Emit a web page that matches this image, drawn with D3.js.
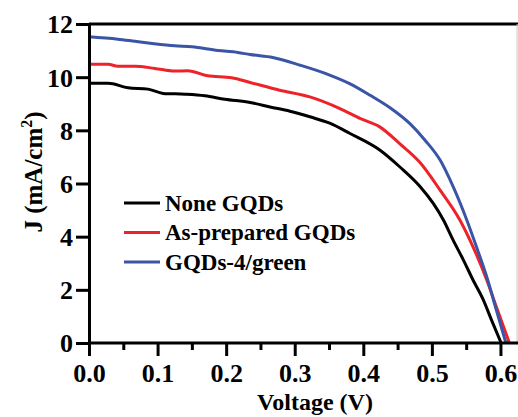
<!DOCTYPE html>
<html>
<head>
<meta charset="utf-8">
<script src="https://cdn.jsdelivr.net/npm/d3@7"></script>
<style>
  svg text, svg tspan { font-family: 'Liberation Serif', 'Times New Roman', Times, serif !important; font-weight: 700 !important; }
</style>
</head>
<body style="margin:0">
<div id="chart"></div>
<script>
// J-V curves (V in volts, J in mA/cm^2)
const seriesNames = ['None GQDs', 'As-prepared GQDs', 'GQDs-4/green'];
const seriesColors = ['#000000', '#ee2229', '#3a55a5'];

const noneV = [0, 0.028, 0.057, 0.086, 0.108, 0.14, 0.169, 0.198, 0.235, 0.264, 0.293, 0.322, 0.351, 0.38, 0.424, 0.453, 0.483, 0.502, 0.517, 0.531, 0.546, 0.56, 0.575, 0.587, 0.601];
const noneJ = [9.77, 9.77, 9.6, 9.55, 9.39, 9.36, 9.3, 9.17, 9.05, 8.88, 8.72, 8.51, 8.27, 7.89, 7.26, 6.63, 5.88, 5.25, 4.62, 3.87, 3.12, 2.37, 1.62, 0.86, 0];

const asPrepV = [0, 0.028, 0.042, 0.067, 0.096, 0.125, 0.144, 0.173, 0.208, 0.235, 0.278, 0.322, 0.366, 0.395, 0.424, 0.453, 0.483, 0.512, 0.541, 0.56, 0.58, 0.594, 0.613];
const asPrepJ = [10.49, 10.49, 10.41, 10.41, 10.33, 10.23, 10.24, 10.05, 9.98, 9.8, 9.51, 9.26, 8.82, 8.45, 8.13, 7.5, 6.78, 5.75, 4.62, 3.62, 2.37, 1.36, 0];

const greenV = [0, 0.042, 0.067, 0.092, 0.125, 0.15, 0.188, 0.217, 0.235, 0.268, 0.308, 0.351, 0.38, 0.41, 0.439, 0.468, 0.49, 0.512, 0.531, 0.551, 0.565, 0.58, 0.594, 0.608];
const greenJ = [11.52, 11.43, 11.35, 11.27, 11.18, 11.14, 11.0, 10.93, 10.85, 10.74, 10.45, 10.08, 9.76, 9.32, 8.85, 8.25, 7.63, 6.88, 5.88, 4.62, 3.62, 2.49, 1.24, 0];

const xMajor = [0, 0.1, 0.2, 0.3, 0.4, 0.5, 0.6];
const xMinor = [0.05, 0.15, 0.25, 0.35, 0.45, 0.55];
const yTicks = [0, 2, 4, 6, 8, 10, 12];

const W = 518, H = 417;
const plot = { left: 89, right: 517.6, top: 24, bottom: 343 };

const svg = d3.select('#chart').append('svg')
  .attr('width', W)
  .attr('height', H);

const x = d3.scaleLinear().domain([0, 0.625]).range([plot.left, plot.right]);
const y = d3.scaleLinear().domain([0, 12]).range([plot.bottom, plot.top]);

const series = [
  { name: seriesNames[0], color: seriesColors[0], v: noneV, j: noneJ },
  { name: seriesNames[1], color: seriesColors[1], v: asPrepV, j: asPrepJ },
  { name: seriesNames[2], color: seriesColors[2], v: greenV, j: greenJ }
];

const line = d3.line()
  .x(d => x(d[0]))
  .y(d => y(d[1]))
  .curve(d3.curveMonotoneX);

// curves
svg.append('g')
  .selectAll('path')
  .data(series)
  .join('path')
  .attr('d', s => line(s.v.map((v, k) => [v, s.j[k]])))
  .attr('fill', 'none')
  .attr('stroke', s => s.color)
  .attr('stroke-width', 3);

// frame (top and faint right edge)
svg.append('line')
  .attr('x1', plot.left).attr('x2', W)
  .attr('y1', plot.top).attr('y2', plot.top)
  .attr('stroke', '#000').attr('stroke-width', 3);
svg.append('line')
  .attr('x1', plot.right - 0.5).attr('x2', plot.right - 0.5)
  .attr('y1', plot.top).attr('y2', plot.bottom)
  .attr('stroke', '#c8c8c8').attr('stroke-width', 1);

// x axis
const xAxis = svg.append('g')
  .attr('transform', `translate(0,${plot.bottom})`)
  .call(d3.axisBottom(x).tickValues(xMajor).tickSize(13).tickSizeOuter(0).tickPadding(8)
    .tickFormat(d3.format('.1f')));
svg.append('g')
  .attr('transform', `translate(0,${plot.bottom})`)
  .call(d3.axisBottom(x).tickValues(xMinor).tickSize(7).tickSizeOuter(0).tickFormat(''))
  .call(g => g.select('.domain').remove());

// y axis
const yAxis = svg.append('g')
  .attr('transform', `translate(${plot.left},0)`)
  .call(d3.axisLeft(y).tickValues(yTicks).tickSize(13).tickSizeOuter(0).tickPadding(3));

svg.selectAll('.domain, .tick line')
  .attr('stroke', '#000')
  .attr('stroke-width', 3);
xAxis.select('.domain').attr('d', `M${plot.left},0H${W}`);
yAxis.selectAll('.tick text').attr('dy', '0.34em');

// axis titles
svg.append('text')
  .attr('x', 315)
  .attr('y', 410)
  .attr('text-anchor', 'middle')
  .attr('font-size', 24)
  .text('Voltage (V)');

const yTitle = svg.append('text')
  .attr('transform', 'translate(42,172) rotate(-90)')
  .attr('text-anchor', 'middle')
  .attr('font-size', 25);
yTitle.append('tspan').text('J (mA/cm');
yTitle.append('tspan').attr('dy', -10).attr('font-size', 16).text('2');
yTitle.append('tspan').attr('dy', 10).text(')');

// legend
const legend = svg.append('g')
  .selectAll('g')
  .data(series)
  .join('g')
  .attr('transform', (s, k) => `translate(124,${203 + k * 29.5})`);
legend.append('line')
  .attr('x1', 0).attr('x2', 36)
  .attr('stroke', s => s.color)
  .attr('stroke-width', 3);
legend.append('text')
  .attr('x', 41)
  .attr('dy', '0.34em')
  .attr('font-size', 23)
  .text(s => s.name);

svg.selectAll('text').attr('fill', '#000');
svg.selectAll('.tick text').attr('font-size', 26);
</script>
</body>
</html>
